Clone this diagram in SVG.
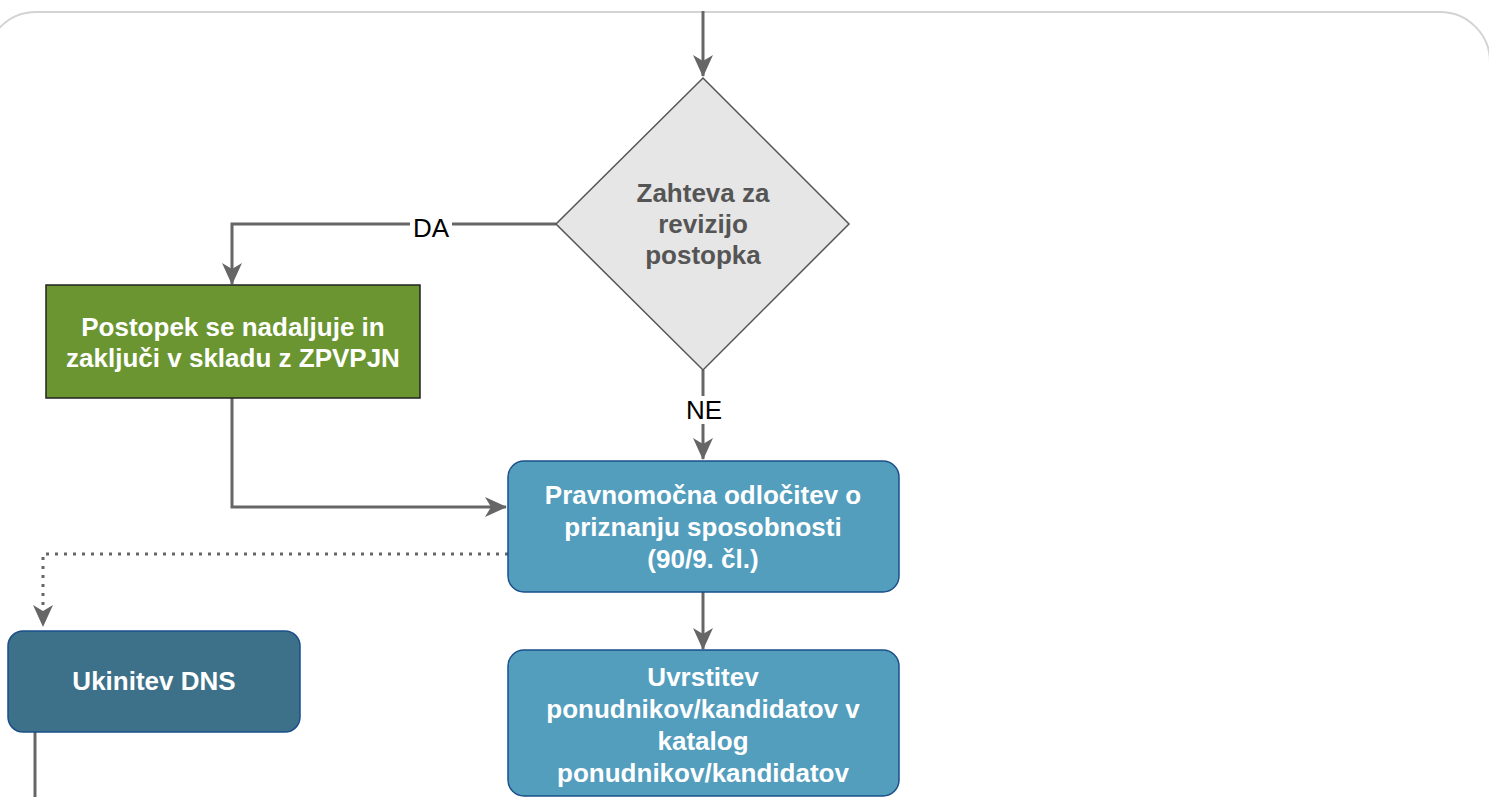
<svg xmlns="http://www.w3.org/2000/svg" width="1489" height="797" viewBox="0 0 1489 797">
<defs>
<marker id="arr" markerUnits="userSpaceOnUse" markerWidth="22" markerHeight="22" viewBox="0 0 22 22" refX="21" refY="11" orient="auto">
<path d="M0,1 L22,11 L0,21 L6,11 Z" fill="#666666"/>
</marker>
<style>
.lbl{font-family:"Liberation Sans",Arial,sans-serif;font-weight:bold;font-size:26px;text-anchor:middle;fill:#ffffff}
.dark{fill:#555555}
.edge{fill:none;stroke:#666666;stroke-width:3}
.elbl{font-family:"Liberation Sans",Arial,sans-serif;font-size:26px;text-anchor:middle;fill:#000000}
</style>
</defs>
<rect width="1489" height="797" fill="#ffffff"/>
<rect id="frame" x="-14" y="12" width="1504" height="900" rx="50" ry="50" fill="none" stroke="#d3d3d3" stroke-width="2"/>
<g id="connectors">
<path class="edge" d="M703,11 L703,76" marker-end="url(#arr)"/>
<path class="edge" d="M556,224 L232,224 L232,284" marker-end="url(#arr)"/>
<rect x="410" y="210" width="42" height="28" fill="#ffffff"/>
<text class="elbl" x="431" y="237">DA</text>
<path class="edge" d="M703,370 L703,459" marker-end="url(#arr)"/>
<rect x="684" y="396" width="40" height="28" fill="#ffffff"/>
<text class="elbl" x="704" y="419">NE</text>
<path class="edge" d="M232,398 L232,507 L506,507" marker-end="url(#arr)"/>
<path class="edge" d="M703,592 L703,649" marker-end="url(#arr)"/>
<path class="edge" d="M508,554 L43,554 L43,626" stroke-dasharray="3 6" marker-end="url(#arr)"/>
<path class="edge" d="M35,732 L35,797"/>
</g>
<g id="decision">
<polygon points="703,78 849,224 703,370 556,224" fill="#e6e6e6" stroke="#555555" stroke-width="1.5"/>
<text class="lbl dark" x="703" y="202">Zahteva za</text>
<text class="lbl dark" x="703" y="233">revizijo</text>
<text class="lbl dark" x="703" y="264">postopka</text>
</g>
<g id="green">
<rect x="46" y="285" width="374" height="113" fill="#6b9530" stroke="#222222" stroke-width="1.5"/>
<text class="lbl" x="233" y="336">Postopek se nadaljuje in</text>
<text class="lbl" x="233" y="367">zaključi v skladu z ZPVPJN</text>
</g>
<g id="odlocitev">
<rect x="508" y="461" width="391" height="131" rx="16" ry="16" fill="#539dbd" stroke="#1a4f8a" stroke-width="1.5"/>
<text class="lbl" x="703" y="504">Pravnomočna odločitev o</text>
<text class="lbl" x="703" y="536">priznanju sposobnosti</text>
<text class="lbl" x="703" y="568">(90/9. čl.)</text>
</g>
<g id="uvrstitev">
<rect x="508" y="650" width="391" height="146" rx="16" ry="16" fill="#539dbd" stroke="#1a4f8a" stroke-width="1.5"/>
<text class="lbl" x="703" y="686">Uvrstitev</text>
<text class="lbl" x="703" y="718">ponudnikov/kandidatov v</text>
<text class="lbl" x="703" y="750">katalog</text>
<text class="lbl" x="703" y="782">ponudnikov/kandidatov</text>
</g>
<g id="ukinitev">
<rect x="8" y="631" width="292" height="101" rx="15" ry="15" fill="#3c7189" stroke="#1a4f8a" stroke-width="1.5"/>
<text class="lbl" x="154" y="690">Ukinitev DNS</text>
</g>
</svg>
